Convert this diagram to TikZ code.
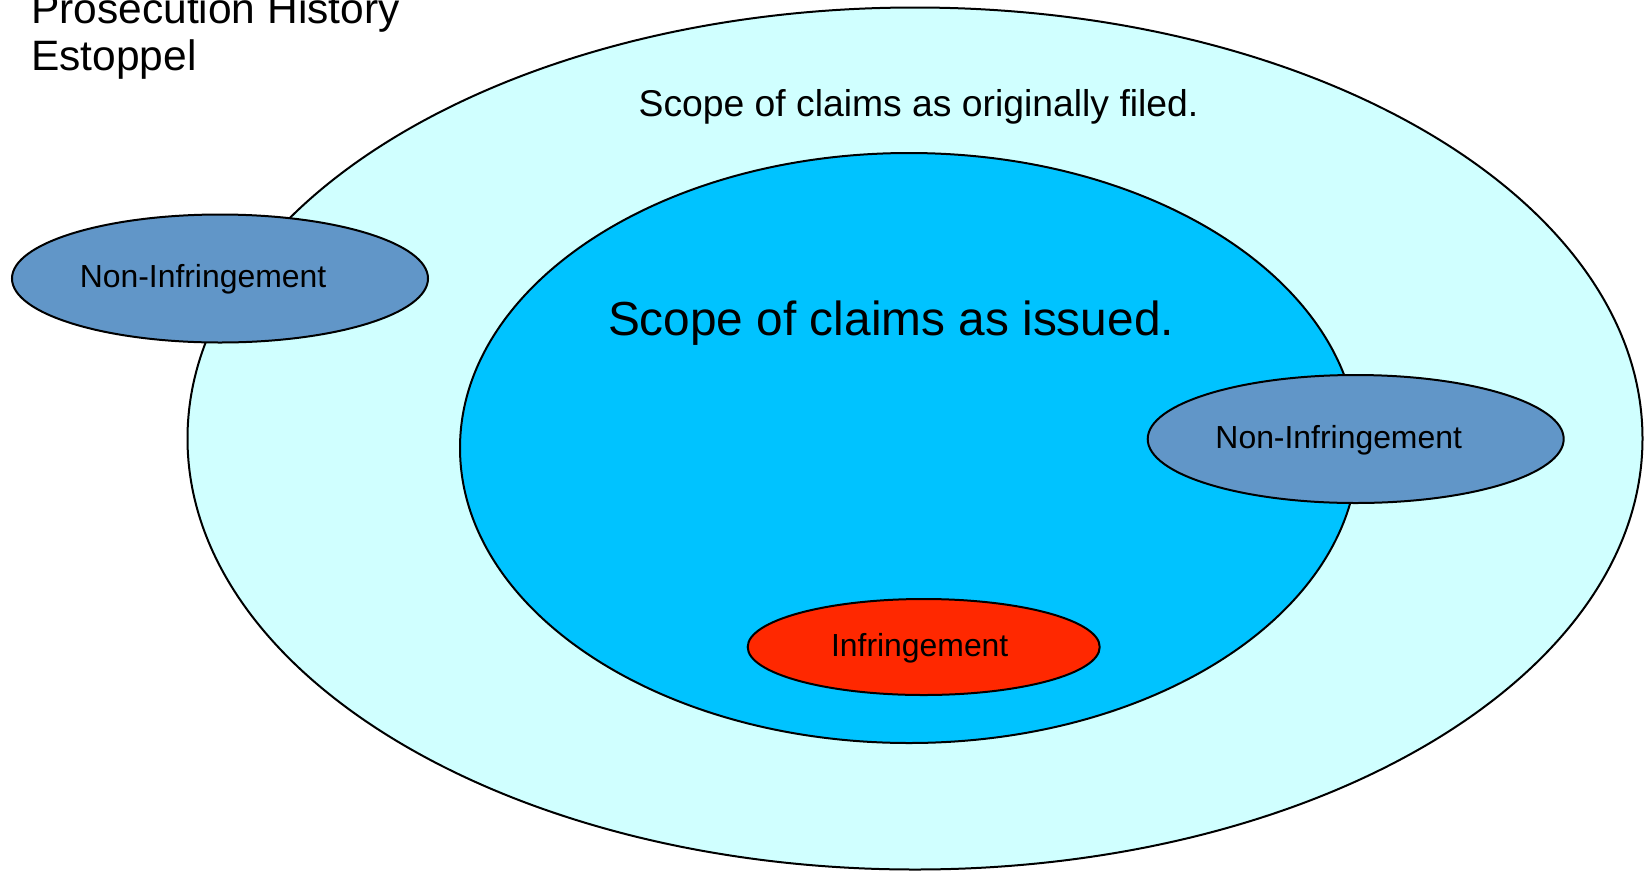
\documentclass[tikz,border=0pt]{standalone}
\usepackage{fontspec}
\setmainfont{Liberation Sans}
\usetikzlibrary{shapes.geometric,calc}
\definecolor{outerfill}{RGB}{208,255,255}
\definecolor{midfill}{RGB}{0,195,255}
\definecolor{nifill}{RGB}{97,150,200}
\definecolor{infill}{RGB}{255,40,0}
\tikzset{
  oval/.style={ellipse, draw=black, line width=2pt, inner sep=0pt},
  lbl/.style={anchor=base, inner sep=0pt, text=black},
}
\begin{document}
\begin{tikzpicture}[x=1pt,y=-1pt]
\clip (0,0) rectangle (1646,871);
\fill[white] (0,0) rectangle (1646,871);
\node[oval, fill=outerfill, minimum width=1455pt, minimum height=862pt] (outer) at (915,438.5) {};
\node[oval, fill=midfill, minimum width=898pt, minimum height=590pt] (mid) at (909,448) {};
\node[oval, fill=nifill, minimum width=416pt, minimum height=128pt] (nileft) at (220,278.5) {};
\node[oval, fill=nifill, minimum width=416pt, minimum height=128pt] (niright) at (1355.7,439) {};
\node[oval, fill=infill, minimum width=352pt, minimum height=96pt] (inf) at (923.7,647) {};
\node[lbl, anchor=base west, font=\fontsize{42.5}{48}\selectfont] (title1) at (31,23) {Prosecution History};
\node[lbl, anchor=base west, font=\fontsize{42.5}{48}\selectfont] (title2) at (31,70.7) {Estoppel};
\node[lbl, font=\fontsize{37.3}{42}\selectfont] (filed) at (918.5,116) {Scope of claims as originally filed.};
\node[lbl, font=\fontsize{47.8}{54}\selectfont] (issued) at (891,335) {Scope of claims as issued.};
\node[lbl, font=\fontsize{31.9}{36}\selectfont] (nilefttext) at ($(nileft.center)+(-17,9)$) {Non-Infringement};
\node[lbl, font=\fontsize{31.9}{36}\selectfont] (nirighttext) at ($(niright.center)+(-17,9)$) {Non-Infringement};
\node[lbl, font=\fontsize{31.9}{36}\selectfont] (inftext) at ($(inf.center)+(-4,9)$) {Infringement};
\end{tikzpicture}
\end{document}
